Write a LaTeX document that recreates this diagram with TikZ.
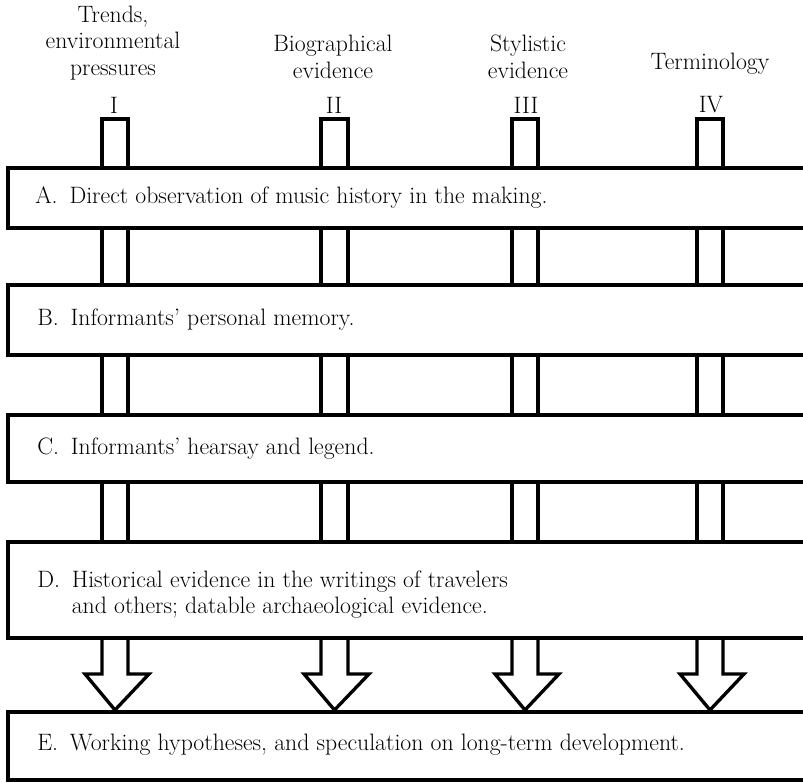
\documentclass[tikz,border=0pt]{standalone}
\begin{document}
\begin{tikzpicture}[x=0.75pt,y=-0.75pt,
  ln/.style={line width=2.5pt, line cap=rect, line join=miter},
  boxtext/.style={anchor=west, inner sep=0pt, font=\fontsize{17.8}{20}\selectfont, align=left},
  collab/.style={anchor=center, inner sep=0pt, font=\fontsize{17.8}{20}\selectfont, align=center}]
\useasboundingbox (0,0) rectangle (803,782);
% column labels
\node[collab] (l1) at (113,43) {Trends,\\environmental\\pressures};
\node[collab] (l2) at (333,57) {Biographical\\evidence};
\node[collab] (l3) at (528,57) {Stylistic\\evidence};
\node[collab] (l4) at (710,64) {Terminology};
\node[collab] (n1) at (114,105) {I};
\node[collab] (n2) at (334,105) {II};
\node[collab] (n3) at (526,105) {III};
\node[collab] (n4) at (711,105) {IV};
% boxes (open on the right)
\foreach \t/\b in {168/228, 285/355, 415/482, 542/638, 712/780}{
  \draw[ln] (806,\t) -- (8,\t) -- (8,\b) -- (806,\b);
}
\node[boxtext] (A) at (35,198) {A.\enspace Direct observation of music history in the making.};
\node[boxtext] (B) at (37,320) {B.\enspace Informants' personal memory.};
\node[boxtext] (C) at (37,449) {C.\enspace Informants' hearsay and legend.};
\node[boxtext, font=\fontsize{17.8}{19.5}\selectfont] (D) at (37,595) {D.\enspace Historical evidence in the writings of travelers\\\phantom{D.\enspace}and others; datable archaeological evidence.};
\node[boxtext] (E) at (37,745) {E.\enspace Working hypotheses, and speculation on long-term development.};
% columns
\foreach \xl/\xr in {102/128, 321/348, 512/538, 697/723}{
  \draw[ln] (\xl,168) -- (\xl,119) -- (\xr,119) -- (\xr,168);
  \draw[ln] (\xl,228) -- (\xl,285) (\xr,228) -- (\xr,285);
  \draw[ln] (\xl,355) -- (\xl,415) (\xr,355) -- (\xr,415);
  \draw[ln] (\xl,482) -- (\xl,542) (\xr,482) -- (\xr,542);
  \draw[ln, line cap=butt] (\xl,638) -- (\xl,674) -- ({\xl-17},674) -- ({(\xl+\xr)/2},710) -- ({\xr+21},674) -- (\xr,674) -- (\xr,638);
}
\end{tikzpicture}
\end{document}
